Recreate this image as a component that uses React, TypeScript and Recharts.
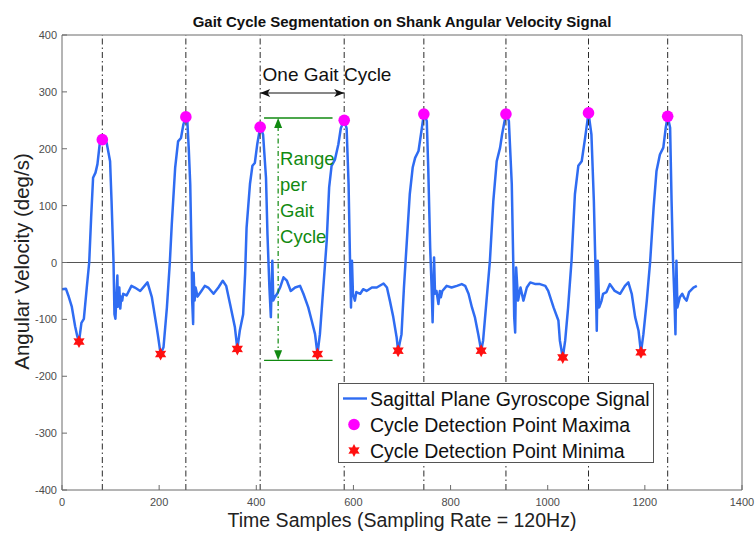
import {
  ComposedChart,
  Label,
  Legend,
  Line,
  ReferenceDot,
  ReferenceLine,
  Scatter,
  XAxis,
  YAxis,
} from 'recharts'

const FONT = '"Liberation Sans", Arial, Helvetica, sans-serif'
const AXIS_COLOR = '#6b6b6b'
const TICK_COLOR = '#4d4d4d'
const SIGNAL_COLOR = '#2f6cf2'
const MAX_COLOR = '#ff00ff'
const MIN_COLOR = '#ff1010'
const NOTE_GREEN = '#118a11'

const xTicks = [0, 200, 400, 600, 800, 1000, 1200, 1400]
const yTicks = [-400, -300, -200, -100, 0, 100, 200, 300, 400]

// shank gyro trace: [sample, deg/s]
const gyroTrace: [number, number][] = [
  [0, -47], [8, -46], [13, -58], [20, -77], [27, -112], [31, -128], [35, -139], [40, -106], [45, -99],
  [51, -44], [56, 0], [60, 79], [64, 149], [69, 158], [73, 173], [78, 211], [83, 216],
  [88, 214], [92, 210], [99, 178], [102, 108], [106, 3], [108, -91], [110, -99], [112, -60], [114, -23],
  [115, -78], [118, -44], [120, -81], [122, -60], [124, -67], [126, -55], [133, -58], [143, -41],
  [150, -44], [161, -50], [176, -35], [185, -61], [195, -114], [198, -131], [203, -161],
  [209, -149], [216, -79], [222, 0], [226, 67], [233, 167], [239, 213], [245, 219], [250, 243], [255, 256],
  [258, 249], [261, 200], [264, 138], [267, 3], [268, -67], [270, -108], [271, -18], [273, -67],
  [275, -44], [279, -60], [283, -55], [287, -50], [294, -41], [301, -44], [312, -55], [322, -44],
  [331, -32], [338, -41], [346, -73], [356, -114], [361, -152],
  [366, -120], [373, -91], [377, -20], [380, 61], [387, 138], [392, 170], [397, 175], [402, 208], [408, 238],
  [414, 225], [420, 149], [423, 50], [427, -44], [430, -96], [433, 3], [435, -67], [438, -61],
  [443, -55], [449, -44], [456, -26], [463, -32], [471, -50], [480, -44], [490, -41], [497, -55],
  [507, -79], [514, -102], [521, -126], [526, -161],
  [531, -126], [538, -44], [545, 38], [550, 132], [555, 170], [562, 181], [569, 208], [574, 236], [581, 250],
  [586, 236], [590, 138], [593, 3], [595, -79], [597, 3], [599, -55], [603, -67], [606, -52],
  [614, -55], [620, -47], [627, -50], [638, -44], [648, -44], [662, -37], [669, -44], [675, -67],
  [682, -96], [689, -132], [692, -155],
  [699, -126], [704, -44], [710, 38], [716, 120], [722, 167], [727, 184], [734, 196], [741, 237], [745, 261],
  [751, 249], [754, 167], [758, 26], [761, -44], [763, -105], [766, 9], [768, -55], [771, -50],
  [775, -73], [778, -50], [780, -61], [783, -50], [792, -41], [802, -44], [813, -41], [823, -38],
  [830, -41], [837, -55], [844, -79], [850, -96], [857, -126], [863, -155],
  [867, -137], [874, -67], [881, 3], [888, 108], [895, 178], [902, 202], [906, 225], [914, 261],
  [920, 249], [926, 138], [929, 3], [931, -96], [933, -123], [935, -9], [939, -67], [944, -44],
  [950, -67], [957, -44], [964, -35], [975, -38], [984, -38], [995, -41], [1001, -50], [1012, -79],
  [1022, -102], [1025, -137], [1031, -167],
  [1036, -137], [1042, -79], [1049, 3], [1056, 120], [1063, 170], [1070, 178], [1077, 219], [1084, 263],
  [1090, 225], [1095, 108], [1098, 3], [1101, -120], [1103, 3], [1106, -79], [1111, -67], [1114, -55],
  [1121, -52], [1128, -38], [1138, -50], [1149, -55], [1159, -41], [1166, -35], [1173, -55],
  [1180, -96], [1187, -120], [1192, -158],
  [1197, -126], [1204, -67], [1211, 3], [1218, 96], [1224, 161], [1231, 190], [1238, 202], [1243, 237], [1247, 257],
  [1252, 237], [1255, 108], [1258, 3], [1261, -67], [1263, -126], [1265, 3], [1267, -79], [1272, -61],
  [1277, -55], [1281, -62], [1286, -67], [1291, -52], [1300, -44], [1307, -41],
]

// detected cycle points (maxima also mark the cycle boundaries)
const peakSamples = [83, 255, 408, 581, 745, 914, 1084, 1247]
const peakValues = [216, 256, 238, 250, 261, 261, 263, 257]
const troughSamples = [35, 203, 361, 526, 692, 863, 1031, 1192]
const troughValues = [-139, -161, -152, -161, -155, -155, -167, -158]

// annotation for one cycle and its range
const cycleNote = 'One Gait Cycle'
const cycleArrowLevel = 298
const rangeNote = ['Range', 'per', 'Gait', 'Cycle']
const rangeTop = 254
const rangeBottom = -172
const rangeFrom = 416
const rangeTo = 557
const rangeArrowAt = 445

const legendOrder = ['line', 'circle', 'star']

const signal = gyroTrace.map(([t, v]) => ({ t, v }))
const maxima = peakSamples.map((t, i) => ({ t, v: peakValues[i] }))
const minima = troughSamples.map((t, i) => ({ t, v: troughValues[i] }))

const BottomTick = ({ x, y, payload }: any) => (
  <g>
    <line x1={x} y1={y} x2={x} y2={y - 5} stroke={AXIS_COLOR} />
    <text x={x} y={y + 16} textAnchor="middle" fontSize={11} fontFamily={FONT} fill={TICK_COLOR}>
      {payload.value}
    </text>
  </g>
)

const LeftTick = ({ x, y, payload }: any) => (
  <g>
    <line x1={x} y1={y} x2={x + 5} y2={y} stroke={AXIS_COLOR} />
    <text x={x - 5} y={y + 4} textAnchor="end" fontSize={11} fontFamily={FONT} fill={TICK_COLOR}>
      {payload.value}
    </text>
  </g>
)

const NoTick = () => <g />

const ChartTitle = ({ viewBox }: any) => (
  <text
    x={viewBox.x + viewBox.width / 2}
    y={viewBox.y - 8}
    textAnchor="middle"
    fontSize={15}
    fontWeight="bold"
    fontFamily={FONT}
    fill="#111"
  >
    Gait Cycle Segmentation on Shank Angular Velocity Signal
  </text>
)

const XTitle = ({ viewBox }: any) => (
  <text x={viewBox.x + viewBox.width / 2} y={viewBox.y + 37} textAnchor="middle" fontSize={19.5} fontFamily={FONT} fill="#222">
    Time Samples (Sampling Rate = 120Hz)
  </text>
)

const YTitle = ({ viewBox }: any) => {
  const cx = 29
  const cy = viewBox.y + viewBox.height / 2 - 1
  return (
    <text x={cx} y={cy} transform={`rotate(-90, ${cx}, ${cy})`} textAnchor="middle" fontSize={20.5} fontFamily={FONT} fill="#222">
      Angular Velocity (deg/s)
    </text>
  )
}

const MaxDot = ({ cx, cy }: any) => <circle cx={cx} cy={cy} r={5.8} fill={MAX_COLOR} />

const Hexagram = ({ cx, cy }: any) => {
  const pts: string[] = []
  for (let k = 0; k < 12; k++) {
    const r = k % 2 === 0 ? 6.5 : 3.6
    const a = (Math.PI / 6) * k - Math.PI / 2
    pts.push(`${cx + r * Math.cos(a)},${cy + r * Math.sin(a)}`)
  }
  return <polygon points={pts.join(' ')} fill={MIN_COLOR} />
}

// arrow head path, (dx, dy) points from the tip back along the shaft
const head = (tx: number, ty: number, dx: number, dy: number, len: number, half: number, notch: number) => {
  const bx = tx + dx * len
  const by = ty + dy * len
  const nx = -dy
  const ny = dx
  const mx = tx + dx * len * notch
  const my = ty + dy * len * notch
  return `M${tx},${ty}L${bx + nx * half},${by + ny * half}L${mx},${my}L${bx - nx * half},${by - ny * half}Z`
}

const CycleArrow = ({ x1, y1, x2, y2 }: any) => (
  <g>
    <line x1={x1} y1={y1} x2={x2} y2={y2} stroke="#111" strokeWidth={1.2} />
    <path d={head(x1, y1, 1, 0, 10, 4, 0.75)} fill="#111" />
    <path d={head(x2, y2, -1, 0, 10, 4, 0.75)} fill="#111" />
  </g>
)

const RangeArrow = ({ x1, y1, x2, y2 }: any) => {
  const top = Math.min(y1, y2)
  const bottom = Math.max(y1, y2)
  return (
    <g>
      <line x1={x1} y1={top + 8} x2={x2} y2={bottom - 8} stroke={NOTE_GREEN} strokeWidth={1.2} strokeDasharray="5 3 1.5 3" />
      <path d={head(x1, top, 0, 1, 10, 4, 1)} fill={NOTE_GREEN} />
      <path d={head(x1, bottom, 0, -1, 10, 4, 1)} fill={NOTE_GREEN} />
    </g>
  )
}

const CycleText = ({ cx, cy }: any) => (
  <text x={cx} y={cy} fontSize={19} fontFamily={FONT} fill="#111">
    {cycleNote}
  </text>
)

const RangeText = ({ cx, cy }: any) => (
  <text x={cx} y={cy} fontSize={18.5} fontFamily={FONT} fill={NOTE_GREEN}>
    {rangeNote.map((w, i) => (
      <tspan key={w} x={cx} dy={i === 0 ? 0 : 26}>
        {w}
      </tspan>
    ))}
  </text>
)

const LegendBox = ({ payload }: any) => {
  const items = [...(payload || [])].sort(
    (a: any, b: any) => legendOrder.indexOf(a.type) - legendOrder.indexOf(b.type),
  )
  return (
    <svg width={316} height={80} style={{ display: 'block' }}>
      <rect x={0.5} y={0.5} width={315} height={79} fill="#fff" stroke="#555" />
      {items.map((entry: any, i: number) => {
        const cy = 15.5 + i * 26
        return (
          <g key={entry.value}>
            {entry.type === 'line' && <line x1={5} x2={29} y1={cy} y2={cy} stroke={SIGNAL_COLOR} strokeWidth={2.4} />}
            {entry.type === 'circle' && <MaxDot cx={16} cy={cy} />}
            {entry.type === 'star' && <Hexagram cx={16} cy={cy} />}
            <text x={32} y={cy + 7} fontSize={19.5} fontFamily={FONT} fill="#111">
              {entry.value}
            </text>
          </g>
        )
      })}
    </svg>
  )
}

export default function App() {
  return (
    <div style={{ position: 'absolute', left: 0, top: 0, background: '#fff' }}>
      <ComposedChart width={755} height={536} margin={{ top: 35, right: 13, bottom: 16, left: 12 }}>
        <XAxis
          xAxisId="b"
          dataKey="t"
          type="number"
          domain={[0, 1400]}
          ticks={xTicks}
          interval={0}
          tickSize={0}
          tickMargin={0}
          tickLine={false}
          tick={<BottomTick />}
          stroke={AXIS_COLOR}
          height={30}
          allowDataOverflow
        >
          <Label content={XTitle} />
        </XAxis>
        <XAxis
          xAxisId="t"
          orientation="top"
          mirror
          type="number"
          domain={[0, 1400]}
          ticks={xTicks}
          interval={0}
          tickSize={5}
          tick={<NoTick />}
          stroke={AXIS_COLOR}
        >
          <Label content={ChartTitle} />
        </XAxis>
        <YAxis
          yAxisId="l"
          dataKey="v"
          type="number"
          domain={[-400, 400]}
          ticks={yTicks}
          interval={0}
          tickSize={0}
          tickMargin={0}
          tickLine={false}
          tick={<LeftTick />}
          width={50}
          stroke={AXIS_COLOR}
          allowDataOverflow
        >
          <Label content={YTitle} />
        </YAxis>
        <YAxis
          yAxisId="r"
          orientation="right"
          mirror
          type="number"
          domain={[-400, 400]}
          ticks={yTicks}
          interval={0}
          tickSize={5}
          tick={<NoTick />}
          stroke={AXIS_COLOR}
        />
        <ReferenceLine xAxisId="b" yAxisId="l" y={0} stroke="#555" />
        <Line
          xAxisId="b"
          yAxisId="l"
          data={signal}
          dataKey="v"
          name="Sagittal Plane Gyroscope Signal"
          legendType="line"
          stroke={SIGNAL_COLOR}
          strokeWidth={2.5}
          strokeLinejoin="round"
          dot={false}
          activeDot={false}
          type="linear"
          isAnimationActive={false}
        />
        <Scatter
          xAxisId="b"
          yAxisId="l"
          data={maxima}
          dataKey="v"
          name="Cycle Detection Point Maxima"
          legendType="circle"
          fill={MAX_COLOR}
          shape={MaxDot}
          isAnimationActive={false}
        />
        <Scatter
          xAxisId="b"
          yAxisId="l"
          data={minima}
          dataKey="v"
          name="Cycle Detection Point Minima"
          legendType="star"
          fill={MIN_COLOR}
          shape={Hexagram}
          isAnimationActive={false}
        />
        {peakSamples.map((t) => (
          <ReferenceLine key={t} xAxisId="b" yAxisId="l" x={t} stroke="#2a2a2a" strokeDasharray="6 3 1.5 3" />
        ))}
        <ReferenceLine
          xAxisId="b"
          yAxisId="l"
          segment={[
            { x: peakSamples[2], y: cycleArrowLevel },
            { x: peakSamples[3], y: cycleArrowLevel },
          ]}
          shape={CycleArrow}
        />
        <ReferenceDot xAxisId="b" yAxisId="l" x={peakSamples[2] + 5} y={320} shape={CycleText} />
        <ReferenceLine
          xAxisId="b"
          yAxisId="l"
          segment={[
            { x: rangeFrom, y: rangeTop },
            { x: rangeTo, y: rangeTop },
          ]}
          stroke={NOTE_GREEN}
          strokeWidth={1.4}
        />
        <ReferenceLine
          xAxisId="b"
          yAxisId="l"
          segment={[
            { x: rangeFrom, y: rangeBottom },
            { x: rangeTo, y: rangeBottom },
          ]}
          stroke={NOTE_GREEN}
          strokeWidth={1.4}
        />
        <ReferenceLine
          xAxisId="b"
          yAxisId="l"
          segment={[
            { x: rangeArrowAt, y: rangeTop },
            { x: rangeArrowAt, y: rangeBottom },
          ]}
          shape={RangeArrow}
        />
        <ReferenceDot xAxisId="b" yAxisId="l" x={rangeArrowAt + 4} y={171} shape={RangeText} />
        <Legend
          layout="vertical"
          align="center"
          verticalAlign="middle"
          content={LegendBox}
          wrapperStyle={{ left: 338, top: 383, width: 316, height: 80 }}
        />
      </ComposedChart>
    </div>
  )
}
